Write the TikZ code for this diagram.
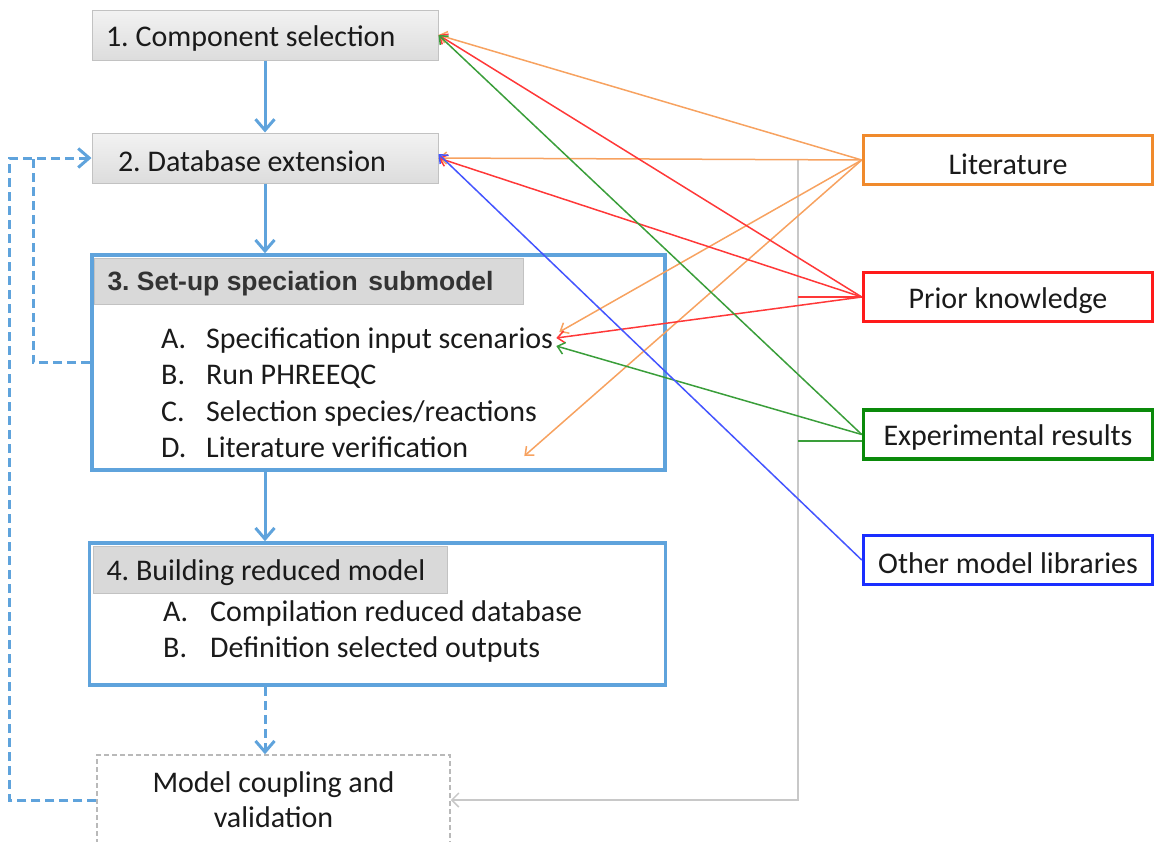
\documentclass[tikz,border=0pt]{standalone}
\usepackage{fontspec}
\setmainfont{Carlito}
\newfontfamily\headfont{Liberation Sans}
\usetikzlibrary{arrows.meta,calc}

\definecolor{flowblue}{HTML}{5FA3DC}
\definecolor{hdrgray}{HTML}{D9D9D9}
\definecolor{hdrline}{HTML}{C2C2C2}
\definecolor{litorange}{HTML}{F08A2C}
\definecolor{litline}{HTML}{F7A260}
\definecolor{pkred}{HTML}{FF1A1A}
\definecolor{pkline}{HTML}{FF3838}
\definecolor{expgreen}{HTML}{0A8A0A}
\definecolor{expline}{HTML}{3A9E3A}
\definecolor{libblue}{HTML}{1A2EFF}
\definecolor{libline}{HTML}{4455FF}
\definecolor{feedgray}{HTML}{C8C8C8}
\definecolor{inktext}{HTML}{1A1A1A}
\definecolor{hdrtext}{HTML}{333333}

\newcommand\itemlbl[2]{\makebox[#1][l]{#2}}
% left-aligned label of fixed width, set a little lower than the box centre
\newcommand\leftin[3]{\raisebox{-#1}[\height][\depth]{\makebox[#2][l]{#3}}}
\newcommand\lowered[2]{\raisebox{-#1}[\height][\depth]{#2}}

\tikzset{
  stepgray/.style={draw=hdrline, line width=1pt, top color=gray!10, bottom color=gray!27,
    minimum width=346, minimum height=50, inner sep=0pt},
  stepbox/.style={draw=flowblue, line width=3.5pt},
  hdrbox/.style={draw=hdrline, line width=1pt, fill=hdrgray, anchor=north west,
    inner ysep=0pt, inner xsep=13pt},
  itemline/.style={anchor=base west, inner sep=0pt},
  mcbox/.style={draw=gray!55, line width=1.5pt, dash pattern=on 5pt off 3pt,
    minimum width=353, minimum height=90, align=center,
    font=\fontsize{30}{35}\selectfont},
  srcbox/.style={line width=3.5pt, fill=white, minimum width=289, minimum height=49},
  flow/.style={draw=flowblue, line width=3pt, -{Straight Barb[length=11pt,width=19pt]}},
  flowdash/.style={draw=flowblue, line width=3pt, dash pattern=on 9pt off 5pt},
  feed/.style={draw=feedgray, line width=1.5pt},
  src/.style={line width=1.5pt, -{Straight Barb[length=7pt,width=12pt]}},
}

\begin{document}
\frenchspacing
\begin{tikzpicture}[x=1pt, y=-1pt, font=\fontsize{30}{36}\selectfont, text=inktext]
\useasboundingbox (0,0) rectangle (1154,841);

% --- workflow steps ---
\node[stepgray] (s1) at (265,35) {\leftin{3pt}{318pt}{1. Component selection}};
\node[stepgray] (s2) at (265,158) {\leftin{3pt}{318pt}{\hspace*{12pt}2. Database extension}};

\node[stepbox, minimum width=573, minimum height=215] (s3) at (378.25,362.5) {};
\node[hdrbox, minimum width=429, minimum height=46]
  (s3h) at (94,258) {\leftin{2pt}{403pt}{\color{hdrtext}\headfont\bfseries\fontsize{26.5}{30}\selectfont 3. Set-up speciation\hspace{0.4em}submodel}};
\node[itemline] (s3a) at (161,348) {\itemlbl{45pt}{A.}Specification input scenarios};
\node[itemline] (s3b) at (161,384.5) {\itemlbl{45pt}{B.}Run PHREEQC};
\node[itemline] (s3c) at (161,421) {\itemlbl{45pt}{C.}Selection species/reactions};
\node[itemline] (s3d) at (161,457) {\itemlbl{45pt}{D.}Literature verification};

\node[stepbox, minimum width=576, minimum height=142] (s4) at (377.5,614) {};
\node[hdrbox, minimum width=354, minimum height=47]
  (s4h) at (93,546) {\leftin{3pt}{328pt}{4. Building reduced model}};
\node[itemline] (s4a) at (163,621) {\itemlbl{47pt}{A.}Compilation reduced database};
\node[itemline] (s4b) at (163,657) {\itemlbl{47pt}{B.}Definition selected outputs};

\node[mcbox] (mc) at (273.5,800) {Model coupling and\\validation};

% --- knowledge sources ---
\node[srcbox, draw=litorange] (lit) at (1008,160) {\lowered{4pt}{Literature}};
\node[srcbox, draw=pkred] (pk) at (1008,297) {\lowered{4pt}{Prior knowledge}};
\node[srcbox, draw=expgreen] (exp) at (1008,434.5) {\lowered{3pt}{Experimental results}};
\node[srcbox, draw=libblue] (oml) at (1008,560) {\lowered{3pt}{Other model libraries}};

% --- main flow ---
\draw[flow] (s1) -- (s2);
\draw[flow] (s2.south) -- (s2.south |- s3.north);
\draw[flow] (s2.south |- s3.south) -- (s2.south |- s4.north);
\draw[flow, dash pattern=on 9pt off 5pt] (s2.south |- s4.south) -- (s2.south |- mc.north);

% --- iteration loops back to step 2 ---
\coordinate (loopjoin) at (33,158);
\draw[flowdash] (s3.west) -| (loopjoin);
\draw[flowdash, -{Straight Barb[length=11pt,width=19pt]}]
  (mc.west) -- ++(-86.5,0) |- (s2.west);

% --- sources feeding model coupling ---
\coordinate (fbtop) at (798,160);
\coordinate (gstub) at (798,441);
\draw[feed, -{Straight Barb[length=7pt,width=14pt]}] (fbtop) -- (fbtop |- mc.east) -- (mc.east);
\draw[pkline, line width=1.5pt] (fbtop |- pk.west) -- (pk.west);
\draw[expline, line width=1.5pt] (gstub) -- (gstub -| exp.west);

% --- source contributions ---
\draw[src, litline] (lit.west) -- (s1.east);
\draw[src, litline] (lit.west) -- (s2.east);
\draw[src, litline] (lit.west) -- ([shift={(6,-16)}]s3a.base east);
\draw[src, litline] (lit.west) -- ([shift={(56,-1)}]s3d.base east);

\draw[src, pkline] (pk.west) -- (s1.east);
\draw[src, pkline] (pk.west) -- (s2.east);
\draw[src, pkline] (pk.west) -- ([shift={(3,-10)}]s3a.base east);

\draw[src, expline] (exp.west) -- (s1.east);
\draw[src, expline] (exp.west) -- ([shift={(3,-2)}]s3a.base east);

\draw[src, libline] (oml.west) -- ([yshift=4]s2.east);
\end{tikzpicture}
\end{document}
